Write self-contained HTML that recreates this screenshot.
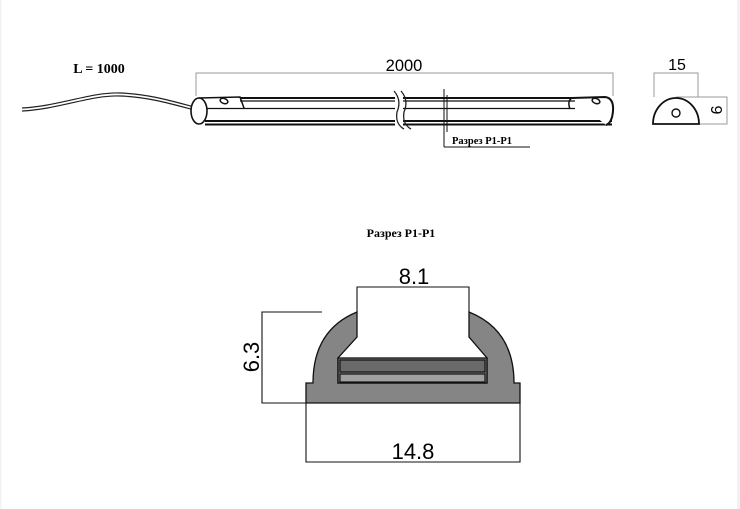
<!DOCTYPE html>
<html><head><meta charset="utf-8"><style>
html,body{margin:0;padding:0;background:#fff}
svg{display:block}
.s{font-family:"Liberation Sans",sans-serif}
.b{font-family:"Liberation Serif",serif;font-weight:bold}
</style></head><body>
<svg width="740" height="509" viewBox="0 0 740 509" xmlns="http://www.w3.org/2000/svg">
<rect x="0" y="0" width="740" height="509" fill="#fff"/>
<rect x="0" y="0" width="1.5" height="509" fill="#f2f2f2"/>
<rect x="737" y="0" width="3" height="509" fill="#f2f2f2"/>

<text x="99" y="73" class="b" font-size="14" text-anchor="middle">L = 1000</text>

<!-- cable -->
<path d="M22 108 C60 106 90 92 120 93 C150 94 175 102 198 108" fill="none" stroke="#222" stroke-width="1.2"/>
<path d="M22 111 C60 109 90 95 120 96 C150 97 175 105 198 111" fill="none" stroke="#222" stroke-width="1.2"/>

<!-- 2000 dim -->
<polyline points="196,96 196,73 613,73 613,96" fill="none" stroke="#999" stroke-width="1"/>
<text x="404" y="71" class="s" font-size="16.5" text-anchor="middle">2000</text>

<!-- bar body -->
<g stroke="#111" fill="none">
<line x1="240" y1="98" x2="575" y2="98" stroke-width="2"/>
<line x1="240" y1="101" x2="575" y2="101" stroke-width="1.2"/>
<line x1="205" y1="108.5" x2="575" y2="108.5" stroke-width="1.2"/>
<line x1="205" y1="121" x2="612" y2="121" stroke-width="2"/>
<line x1="205" y1="124.5" x2="612" y2="124.5" stroke-width="2"/>
<!-- left cap -->
<ellipse cx="199" cy="111" rx="8" ry="13" stroke-width="1.6" fill="#fff"/>
<path d="M199 98 L240 97 L244 108" stroke-width="1.5"/>
<ellipse cx="224" cy="101" rx="4" ry="2.5" stroke-width="1.5" transform="rotate(20 224 101)"/>
<!-- right cap -->
<path d="M572 98 L605 97 Q614 98 613 111 Q612 123 606 125" stroke-width="2" fill="#fff"/>
<path d="M572 98 Q567 101 570 109" stroke-width="1.5"/>
<ellipse cx="596" cy="101" rx="4" ry="2.5" stroke-width="1.5" transform="rotate(20 596 101)"/>
<!-- section marker -->
<line x1="444" y1="89" x2="444" y2="147" stroke-width="1"/>
<line x1="447" y1="95" x2="447" y2="132" stroke-width="1"/>
<polyline points="444,147 530,147" stroke-width="1"/>
</g>
<rect x="395" y="95" width="8" height="32" fill="#fff"/>
<path d="M394 91 Q402 100 397 112 Q395 124 404 129" stroke="#222" stroke-width="1.3" fill="none"/>
<path d="M401 91 Q409 100 404 112 Q402 124 411 129" stroke="#222" stroke-width="1.3" fill="none"/>
<text x="452" y="144" class="b" font-size="10.5">Разрез P1-P1</text>

<!-- end view -->
<g stroke="#999" fill="none" stroke-width="1">
<polyline points="654,97 654,73 698,73 698,97"/>
<polyline points="676,97 727,97 727,124 698,124"/>
</g>
<text x="677" y="70" class="s" font-size="16" text-anchor="middle">15</text>
<text class="s" font-size="16" text-anchor="middle" transform="translate(711,110) rotate(90)">9</text>
<path d="M653 124 A23 26 0 0 1 699 124 Z" fill="#fff" stroke="#111" stroke-width="1.8"/>
<circle cx="676" cy="113" r="4" fill="none" stroke="#111" stroke-width="1.4"/>

<!-- section title -->
<text x="401" y="237" class="b" font-size="12" text-anchor="middle">Разрез P1-P1</text>

<!-- profile -->
<path d="M306 403 L306 383 L313 383 Q313 330 357 312 L357 337 L338 358 L338 383 L487 383 L487 358 L469 337 L469 312 Q514 330 514 383 L520 383 L520 403 Z" fill="#858585" stroke="#111" stroke-width="1.3"/>
<rect x="338" y="358" width="149" height="25" fill="#858585" stroke="#111" stroke-width="1.3"/>
<rect x="340" y="360" width="145" height="12" fill="#6a6a6a" stroke="#111" stroke-width="1.2"/>
<rect x="340" y="374" width="145" height="8" fill="#a0a0a0" stroke="#111" stroke-width="1.2"/>

<g stroke="#111" fill="none" stroke-width="1.1">
<polyline points="357,312 357,287 469,287 469,312"/>
<polyline points="322,312 262,312 262,403 306,403"/>
<polyline points="306,403 306,462 520,462 520,403"/>
</g>
<text x="414" y="284" class="s" font-size="22" text-anchor="middle">8.1</text>
<text x="413" y="459" class="s" font-size="22" text-anchor="middle">14.8</text>
<text class="s" font-size="22" text-anchor="middle" transform="translate(259,357) rotate(-90)">6.3</text>
</svg>
</body></html>
